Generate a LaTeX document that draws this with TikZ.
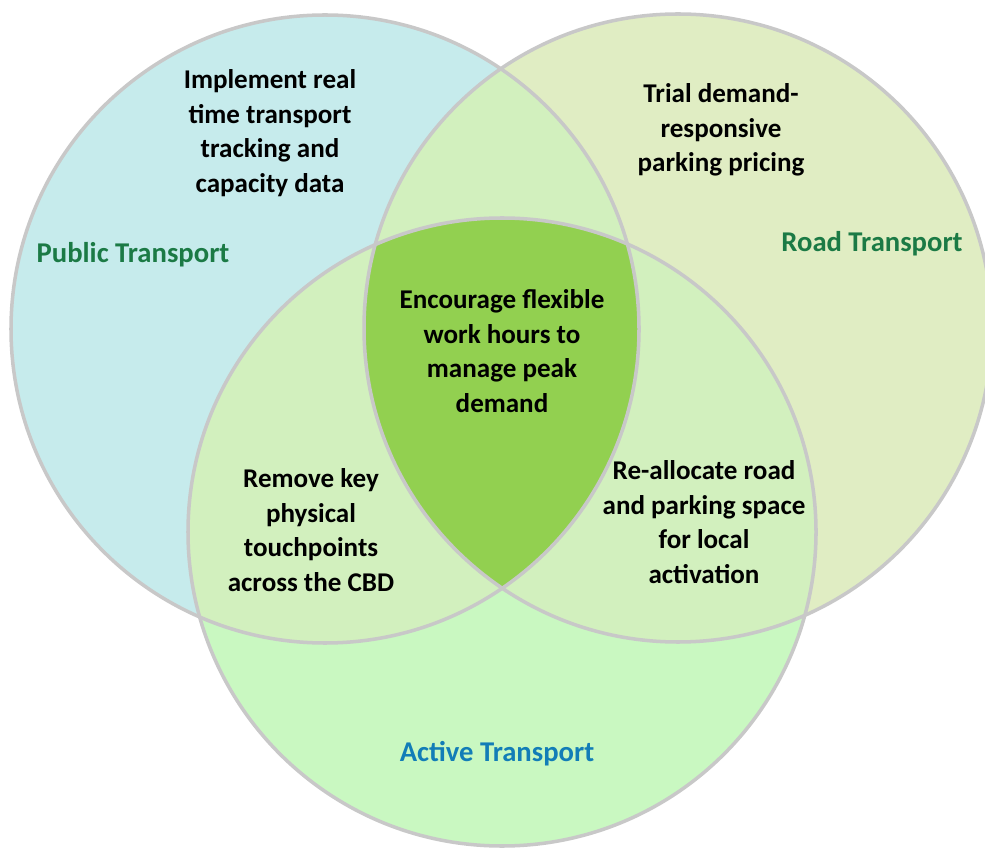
\documentclass[tikz,border=0pt]{standalone}
\usepackage{fontspec}
\setmainfont{Carlito}
\definecolor{ptcyan}{HTML}{C6EBEC}
\definecolor{rtlime}{HTML}{E0EDC3}
\definecolor{atmint}{HTML}{C9F8C1}
\definecolor{overlap}{HTML}{D2F0BE}
\definecolor{core}{HTML}{92D050}
\definecolor{rim}{HTML}{C8C8C8}
\definecolor{dkgreen}{HTML}{1B7A45}
\definecolor{ocean}{HTML}{127DB7}

\begin{document}
\begin{tikzpicture}[
  ring/.style={draw=rim, line width=2pt},
  idea/.style={font=\bfseries\fontsize{15.4}{19.6}\selectfont, text=black, align=center},
  setname/.style={font=\bfseries\fontsize{16.3}{18}\selectfont, text=#1},
]

\useasboundingbox (0,0) rectangle (19.7,17);
\clip (0,0) rectangle (19.7,17);

\coordinate (pubc) at (6.50,10.42);
\coordinate (roadc) at (13.56,10.44);
\coordinate (actc) at (10.04,6.36);
\def\vrad{6.28}

% =============================================
% Set fills
% =============================================
\fill[ptcyan] (pubc) circle (\vrad);
\fill[rtlime] (roadc) circle (\vrad);
\fill[atmint] (actc) circle (\vrad);

% Pairwise overlaps
\begin{scope}
  \clip (pubc) circle (\vrad);
  \fill[overlap] (roadc) circle (\vrad);
  \fill[overlap] (actc) circle (\vrad);
\end{scope}
\begin{scope}
  \clip (roadc) circle (\vrad);
  \fill[overlap] (actc) circle (\vrad);
\end{scope}

% Centre: all three
\begin{scope}
  \clip (pubc) circle (\vrad);
  \clip (roadc) circle (\vrad);
  \fill[core] (actc) circle (\vrad);
\end{scope}

% Outlines
\draw[ring] (pubc) circle (\vrad);
\draw[ring] (roadc) circle (\vrad);
\draw[ring] (actc) circle (\vrad);

% =============================================
% Set names
% =============================================
\node[setname=dkgreen] (pubname) at (2.66,11.90) {Public Transport};
\node[setname=dkgreen] (roadname) at (17.44,12.12) {Road Transport};
\node[setname=ocean] (actname) at (9.94,1.92) {Active Transport};

% =============================================
% Actions
% =============================================
\node[idea] (tracking) at (5.40,14.34)
  {Implement real\\time transport\\tracking and\\capacity data};
\node[idea] (pricing) at (14.42,14.40)
  {Trial demand-\\responsive\\parking pricing};
\node[idea] (flexible) at (10.04,9.98)
  {Encourage flexible\\work hours to\\manage peak\\demand};
\node[idea] (touch) at (6.22,6.40)
  {Remove key\\physical\\touchpoints\\across the CBD};
\node[idea] (realloc) at (14.08,6.56)
  {Re-allocate road\\and parking space\\for local\\activation};

\end{tikzpicture}
\end{document}
